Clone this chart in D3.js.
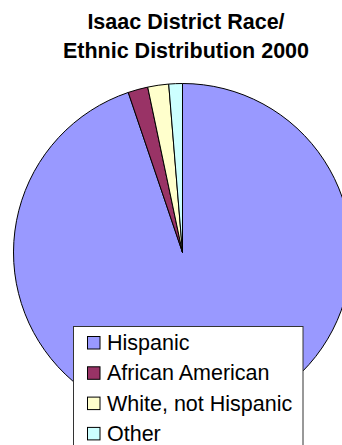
<!DOCTYPE html>
<html><head><meta charset="utf-8">
<script src="https://cdn.jsdelivr.net/npm/d3@7"></script>
<style>html,body{margin:0;padding:0;background:#fff;overflow:hidden}</style>
</head><body>
<svg id="c" width="342" height="445"></svg>
<script>
const titleLines = ["Isaac District Race/", "Ethnic Distribution 2000"];
const categories = ["Hispanic", "African American", "White, not Hispanic", "Other"];
const values = [94.8, 1.9, 2.0, 1.3];
const colors = ["#9999FF", "#993366", "#FFFFCC", "#CCFFFF"];

const svg = d3.select("#c");
const font = "'Liberation Sans', Arial, sans-serif";

svg.append("g").selectAll("text").data(titleLines).join("text")
  .attr("x", 186).attr("y", (d, i) => 29 + i * 28.5)
  .attr("text-anchor", "middle")
  .attr("font-family", font).attr("font-weight", "bold").attr("font-size", "21.5px")
  .attr("fill", "#000").text(d => d);

const cx = 182.5, cy = 252.5, r = 169;
const pie = d3.pie().sort(null).value(d => d)(values);
const arc = d3.arc().innerRadius(0).outerRadius(r);
const color = d3.scaleOrdinal().domain(categories).range(colors);

svg.append("g").attr("transform", `translate(${cx},${cy})`)
  .selectAll("path").data(pie).join("path")
  .attr("d", arc)
  .attr("fill", (d, i) => color(categories[i]))
  .attr("stroke", "#000").attr("stroke-width", 1).attr("stroke-linejoin", "round");

const lg = svg.append("g");
lg.append("rect").attr("x", 73.5).attr("y", 326.5).attr("width", 229.5).attr("height", 140)
  .attr("fill", "#fff").attr("stroke", "#333").attr("stroke-width", 1);

const rows = lg.selectAll("g.row").data(categories).join("g")
  .attr("transform", (d, i) => `translate(0,${350 + i * 30.3})`);
rows.append("rect").attr("x", 87.5).attr("y", -13.5).attr("width", 12.5).attr("height", 12.5)
  .attr("fill", d => color(d)).attr("stroke", "#000").attr("stroke-width", 1);
rows.append("text").attr("x", 107).attr("y", 0)
  .attr("font-family", font).attr("font-size", "21.5px").attr("fill", "#000")
  .text(d => d);
</script>
</body></html>
